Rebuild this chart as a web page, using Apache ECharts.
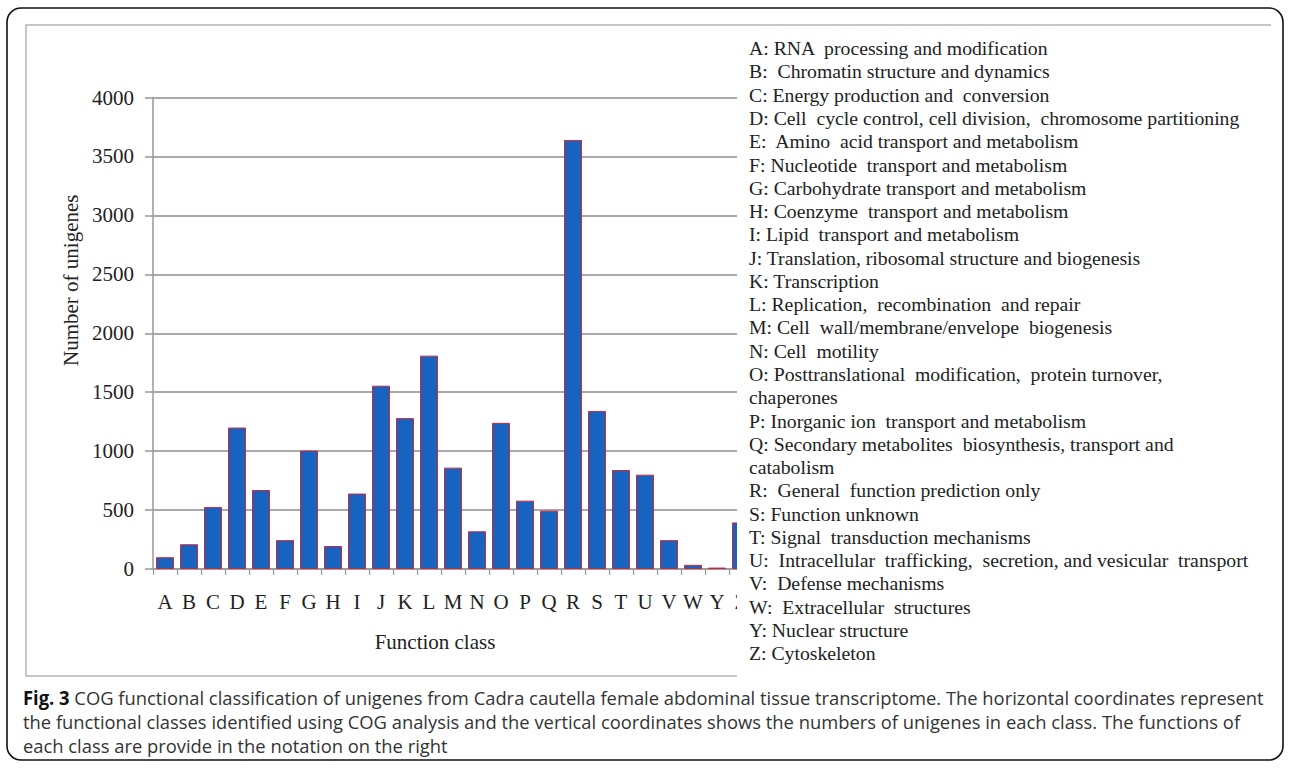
<!DOCTYPE html>
<html><head><meta charset="utf-8">
<script src="https://cdn.jsdelivr.net/npm/echarts@6/dist/echarts.min.js"></script>
<style>
html,body{margin:0;padding:0;background:#fff}
#wrap{position:relative;width:1290px;height:772px}
#b{position:absolute;left:0;top:0;width:1290px;height:772px}
#p{position:absolute;left:0;top:0;width:737px;height:772px;overflow:hidden}
</style>
</head><body><div id="wrap"><div id="b"></div><div id="p"></div></div>
<script>
// ---- data ----
const categories = ['A','B','C','D','E','F','G','H','I','J','K','L','M','N','O','P','Q','R','S','T','U','V','W','Y','Z'];
const values = [100, 210, 525, 1200, 670, 245, 1005, 195, 640, 1555, 1280, 1810, 860, 320, 1240, 580, 495, 3640, 1340, 840, 800, 245, 35, 12, 395];
const yTicks = [0, 500, 1000, 1500, 2000, 2500, 3000, 3500, 4000];
const legendLines = [
  'A: RNA  processing and modification',
  'B:  Chromatin structure and dynamics',
  'C: Energy production and  conversion',
  'D: Cell  cycle control, cell division,  chromosome partitioning',
  'E:  Amino  acid transport and metabolism',
  'F: Nucleotide  transport and metabolism',
  'G: Carbohydrate transport and metabolism',
  'H: Coenzyme  transport and metabolism',
  'I: Lipid  transport and metabolism',
  'J: Translation, ribosomal structure and biogenesis',
  'K: Transcription',
  'L: Replication,  recombination  and repair',
  'M: Cell  wall/membrane/envelope  biogenesis',
  'N: Cell  motility',
  'O: Posttranslational  modification,  protein turnover,',
  'chaperones',
  'P: Inorganic ion  transport and metabolism',
  'Q: Secondary metabolites  biosynthesis, transport and',
  'catabolism',
  'R:  General  function prediction only',
  'S: Function unknown',
  'T: Signal  transduction mechanisms',
  'U:  Intracellular  trafficking,  secretion, and vesicular  transport',
  'V:  Defense mechanisms',
  'W:  Extracellular  structures',
  'Y: Nuclear structure',
  'Z: Cytoskeleton'
];
const captionBold = 'Fig. 3';
const captionLines = [
  ' COG functional classification of unigenes from Cadra cautella female abdominal tissue transcriptome. The horizontal coordinates represent',
  'the functional classes identified using COG analysis and the vertical coordinates shows the numbers of unigenes in each class. The functions of',
  'each class are provide in the notation on the right'
];
const yTitle = 'Number of unigenes';
const xTitle = 'Function class';

// ---- helpers ----
const cv = document.createElement('canvas').getContext('2d');
function tw(font, s){ cv.font = font; return cv.measureText(s).width; }

const serif = '"Liberation Serif", "Times New Roman", serif';
const sans = '"Open Sans", "Noto Sans", sans-serif';

const legFont = '18px ' + serif;
const legScale = 491 / tw(legFont, legendLines[3]);
const capFont = '19px ' + sans;
const capBoldFont = 'bold 19px ' + sans;
const capW = tw(capBoldFont, captionBold) + tw(capFont, captionLines[0]);
const capScale = 1242 / capW;

// ---- background chart: frame, legend notation, caption ----
const graphics = [
  { type:'rect', shape:{x:7, y:8, width:1276, height:752, r:14}, style:{fill:'none', stroke:'#111', lineWidth:1.6}, z:0 },
  { type:'polyline', shape:{points:[[1271,25],[26,25],[26,676],[737,676]]}, style:{fill:'none', stroke:'#b4b4b4', lineWidth:1.5}, z:1 }
];
legendLines.forEach((t, i) => {
  graphics.push({ type:'text', x:749, y:49 + i*23.27, scaleX:legScale, style:{text:t, x:0, y:0, font:legFont, fill:'#222', align:'left', verticalAlign:'middle', textAlign:'left', textVerticalAlign:'middle'}, z:5 });
});
const capY = [697, 721.5, 745];
graphics.push({ type:'text', x:23, y:capY[0], scaleX:capScale, style:{text:'{b|' + captionBold + '}' + captionLines[0], x:0, y:0, font:capFont, fill:'#333', align:'left', verticalAlign:'middle', textAlign:'left', textVerticalAlign:'middle', rich:{b:{font:capBoldFont, fill:'#111'}}}, z:5 });
for (let i = 1; i < captionLines.length; i++) {
  graphics.push({ type:'text', x:23, y:capY[i], scaleX:capScale, style:{text:captionLines[i], x:0, y:0, font:capFont, fill:'#333', align:'left', verticalAlign:'middle', textAlign:'left', textVerticalAlign:'middle'}, z:5 });
}
const bg = echarts.init(document.getElementById('b'), null, {renderer:'svg'});
bg.setOption({ animation:false, backgroundColor:'#fff', graphic:graphics });

// ---- plot chart (cut at the right edge like the original figure) ----
const chart = echarts.init(document.getElementById('p'), null, {renderer:'svg', width:737, height:772});
chart.setOption({
  animation:false,
  backgroundColor:'transparent',
  grid:{left:153, top:97.5, width:600, height:471.5, containLabel:false, outerBoundsMode:'none'},
  xAxis:{
    type:'category', data:categories, boundaryGap:true,
    name:xTitle, nameLocation:'middle', nameGap:62,
    nameTextStyle:{fontFamily:serif, fontSize:21, color:'#222', padding:[0,36,0,0]},
    axisLine:{show:true, lineStyle:{color:'#999', width:1.5}},
    axisTick:{show:true, length:6, alignWithLabel:false, lineStyle:{color:'#999', width:1.2}},
    axisLabel:{interval:0, fontFamily:serif, fontSize:21, color:'#222', margin:22},
    splitLine:{show:false}
  },
  yAxis:{
    type:'value', min:yTicks[0], max:yTicks[yTicks.length-1], interval:500,
    name:yTitle, nameLocation:'middle', nameGap:72, nameRotate:90,
    nameTextStyle:{fontFamily:serif, fontSize:21, color:'#222', padding:[0,0,0,106]},
    axisLine:{show:true, lineStyle:{color:'#999', width:1.5}},
    axisTick:{show:true, length:8, lineStyle:{color:'#999', width:1.5}},
    axisLabel:{fontFamily:serif, fontSize:21, color:'#222', margin:19, formatter:v => String(v)},
    splitLine:{show:true, lineStyle:{color:'#8c8c8c', width:1.5}}
  },
  series:[{
    type:'bar', barWidth:18,
    data: values,
    itemStyle:{color:'#1763bf', borderColor:'#c8283c', borderWidth:1}
  }]
});
</script>
</body></html>
